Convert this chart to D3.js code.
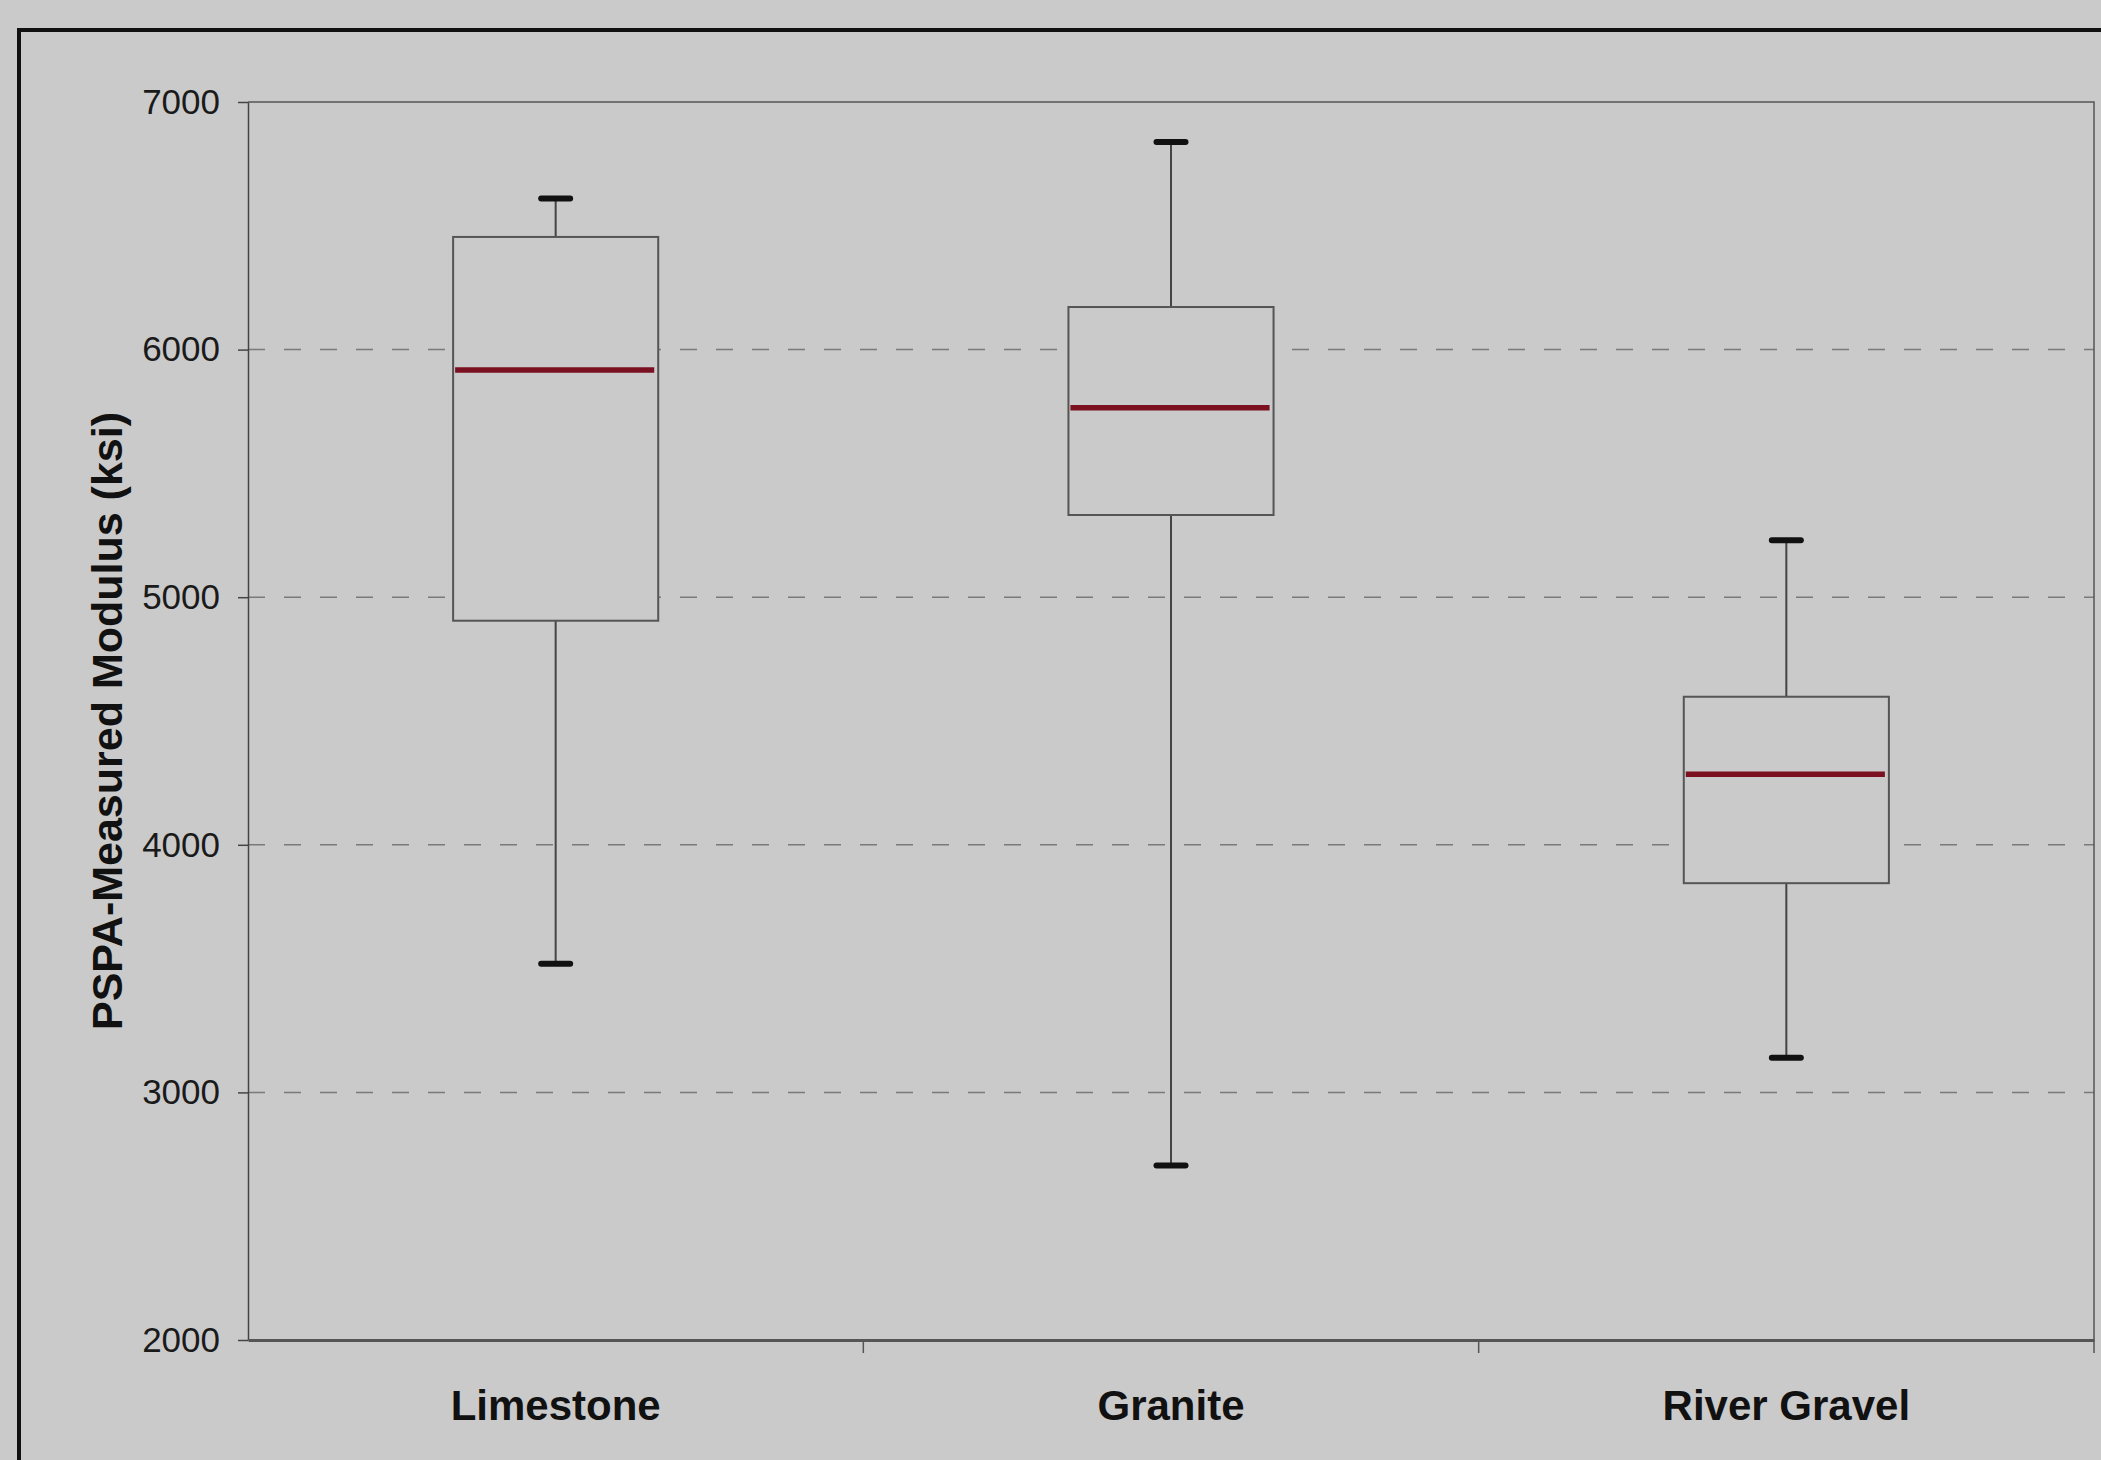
<!DOCTYPE html>
<html lang="en">
<head>
<meta charset="UTF-8">
<title>PSPA-Measured Modulus</title>
<script src="https://d3js.org/d3.v7.min.js"></script>
<style>
  body { margin: 0; background: #cacaca; }
  svg { display: block; font-family: "Liberation Sans", Arial, sans-serif; }
</style>
</head>
<body>
<script>
// values (ksi)
const categories = ["Limestone", "Granite", "River Gravel"];
const minValues = [3520, 2705, 3140];
const q1Values = [4905, 5332, 3845];
const medianValues = [5918, 5765, 4285];
const q3Values = [6455, 6172, 4598];
const maxValues = [6610, 6838, 5230];
const yTicks = [2000, 3000, 4000, 5000, 6000, 7000];

const width = 2101, height = 1460;
const margin = {top: 102, right: 7, bottom: 120, left: 248};

const boxes = categories.map((c, i) => ({
    name: c, min: minValues[i], q1: q1Values[i], median: medianValues[i],
    q3: q3Values[i], max: maxValues[i]
}));

const svg = d3.select("body").append("svg")
    .attr("width", width)
    .attr("height", height);

svg.append("rect")
    .attr("width", width).attr("height", height)
    .attr("fill", "#cacaca");

// outer frame of the figure (runs off the right and bottom of the scan)
svg.append("path")
    .attr("d", `M19,${height + 10}V30H${width + 10}`)
    .attr("fill", "none")
    .attr("stroke", "#111")
    .attr("stroke-width", 4);

const x = d3.scaleBand()
    .domain(categories)
    .range([margin.left, width - margin.right]);

const y = d3.scaleLinear()
    .domain([2000, 7000])
    .range([height - margin.bottom, margin.top]);

// dashed gridlines
svg.append("g")
    .selectAll("line")
    .data(yTicks.filter(d => d > 2000 && d < 7000))
    .join("line")
    .attr("x1", margin.left).attr("x2", width - margin.right)
    .attr("y1", d => y(d)).attr("y2", d => y(d))
    .attr("stroke", "#7a7a7a")
    .attr("stroke-width", 1.5)
    .attr("stroke-dasharray", "17,19");

// top and right border of plot area
svg.append("path")
    .attr("d", `M${margin.left},${y(7000)}H${width - margin.right}V${y(2000)}`)
    .attr("fill", "none")
    .attr("stroke", "#555")
    .attr("stroke-width", 1.5);

// y axis
const yAxis = svg.append("g")
    .attr("transform", `translate(${margin.left},0)`)
    .call(d3.axisLeft(y).tickValues(yTicks).tickFormat(d3.format("d"))
        .tickSize(10).tickPadding(18).tickSizeOuter(0));
yAxis.select(".domain").attr("stroke", "#444").attr("stroke-width", 1.5);
yAxis.selectAll(".tick line").attr("stroke", "#444").attr("stroke-width", 1.5);
yAxis.selectAll(".tick text")
    .attr("font-size", 35)
    .attr("font-family", "Liberation Sans, Arial, sans-serif")
    .attr("fill", "#1a1a1a");

// x axis: line + ticks at band boundaries, labels at band centres
const xAxis = svg.append("g")
    .attr("transform", `translate(0,${y(2000)})`)
    .call(d3.axisBottom(x).tickSize(0).tickPadding(50).tickSizeOuter(0));
xAxis.select(".domain").attr("stroke", "#555").attr("stroke-width", 3);
xAxis.selectAll(".tick text")
    .attr("font-size", 42)
    .attr("font-weight", "bold")
    .attr("font-family", "Liberation Sans, Arial, sans-serif")
    .attr("fill", "#111");

xAxis.selectAll(".bound")
    .data([...categories.slice(1).map(c => x(c)), x.range()[1]])
    .join("line")
    .attr("class", "bound")
    .attr("x1", d => d).attr("x2", d => d)
    .attr("y1", 0).attr("y2", 13)
    .attr("stroke", "#555")
    .attr("stroke-width", 1.5);

// y axis title
svg.append("text")
    .attr("transform", `translate(107,${(y(2000) + y(7000)) / 2}) rotate(-90)`)
    .attr("dy", "0.35em")
    .attr("text-anchor", "middle")
    .attr("font-size", 43)
    .attr("font-weight", "bold")
    .attr("fill", "#111")
    .text("PSPA-Measured Modulus (ksi)");

// box plots
const boxW = x.bandwidth() / 3;
const capW = 29;

const g = svg.append("g")
    .selectAll("g")
    .data(boxes)
    .join("g")
    .attr("transform", d => `translate(${x(d.name) + x.bandwidth() / 2},0)`);

g.append("line")
    .attr("x1", 0).attr("x2", 0)
    .attr("y1", d => y(d.max)).attr("y2", d => y(d.min))
    .attr("stroke", "#444")
    .attr("stroke-width", 2);

g.append("rect")
    .attr("x", -boxW / 2)
    .attr("width", boxW)
    .attr("y", d => y(d.q3))
    .attr("height", d => y(d.q1) - y(d.q3))
    .attr("fill", "#cacaca")
    .attr("stroke", "#555")
    .attr("stroke-width", 2);

g.append("line")
    .attr("x1", -boxW / 2 + 2).attr("x2", boxW / 2 - 4)
    .attr("y1", d => y(d.median)).attr("y2", d => y(d.median))
    .attr("stroke", "#7a1020")
    .attr("stroke-width", 5.5);

g.selectAll(".cap")
    .data(d => [d.max, d.min])
    .join("line")
    .attr("class", "cap")
    .attr("x1", -capW / 2).attr("x2", capW / 2)
    .attr("y1", d => y(d)).attr("y2", d => y(d))
    .attr("stroke", "#111")
    .attr("stroke-width", 6)
    .attr("stroke-linecap", "round");
</script>
</body>
</html>
